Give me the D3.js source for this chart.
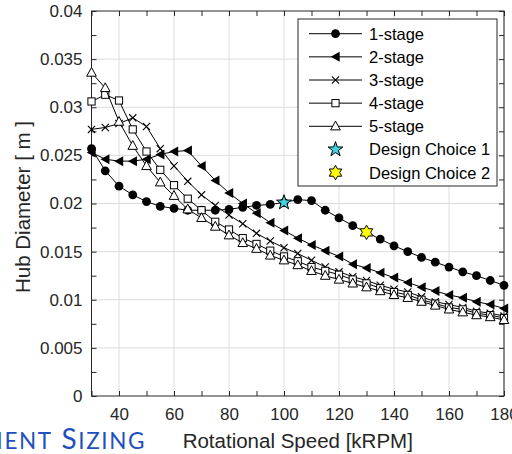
<!DOCTYPE html>
<html>
<head>
<meta charset="utf-8">
<script src="https://cdn.jsdelivr.net/npm/d3@7"></script>
<style>
    body { margin: 0; background: #fff; }
    svg { display: block; font-family: "Liberation Sans", Arial, sans-serif; }
</style>
</head>
<body>
<svg id="chart" width="512" height="454"></svg>
<script>
// rotational speed [kRPM]
const speed = [30, 35, 40, 45, 50, 55, 60, 65, 70, 75, 80, 85, 90, 95, 100, 105,
    110, 115, 120, 125, 130, 135, 140, 145, 150, 155, 160, 165, 170, 175, 180];

// hub diameter [m] per stage count
const stage1 = [0.0257, 0.0234, 0.0218, 0.0209, 0.0202, 0.0197, 0.0195, 0.0193, 0.0193, 0.0193, 0.0194,
    0.0196, 0.0198, 0.0199, 0.0201, 0.0204, 0.0203, 0.0193, 0.0185, 0.0177, 0.0170, 0.0163,
    0.0156, 0.0150, 0.0144, 0.0139, 0.0134, 0.0129, 0.0125, 0.0120, 0.0115];
const stage2 = [0.0253, 0.0246, 0.0244, 0.0244, 0.0246, 0.0251, 0.0254, 0.0255, 0.0239, 0.0224, 0.0211,
    0.0200, 0.0190, 0.0180, 0.0172, 0.0164, 0.0157, 0.0151, 0.0145, 0.0137, 0.0133, 0.0128,
    0.0123, 0.0118, 0.0113, 0.0109, 0.0105, 0.0102, 0.0098, 0.0095, 0.0091];
const stage3 = [0.0277, 0.0279, 0.0283, 0.0289, 0.0280, 0.0257, 0.0239, 0.0223, 0.0209, 0.0198, 0.0188,
    0.0179, 0.0169, 0.0161, 0.0154, 0.0148, 0.0141, 0.0134, 0.0129, 0.0124, 0.0120, 0.0115,
    0.0111, 0.0108, 0.0103, 0.0098, 0.0095, 0.0092, 0.0088, 0.0086, 0.0083];
const stage4 = [0.0306, 0.0313, 0.0307, 0.0277, 0.0254, 0.0235, 0.0219, 0.0205, 0.0193, 0.0181, 0.0173,
    0.0164, 0.0158, 0.0151, 0.0145, 0.0140, 0.0134, 0.0130, 0.0126, 0.0121, 0.0117, 0.0112,
    0.0108, 0.0105, 0.0100, 0.0096, 0.0092, 0.0090, 0.0086, 0.0084, 0.0081];
const stage5 = [0.0336, 0.0320, 0.0285, 0.0260, 0.0239, 0.0222, 0.0208, 0.0194, 0.0185, 0.0176, 0.0167,
    0.0159, 0.0153, 0.0146, 0.0141, 0.0136, 0.0130, 0.0125, 0.0121, 0.0117, 0.0113, 0.0109,
    0.0105, 0.0102, 0.0098, 0.0094, 0.0090, 0.0087, 0.0084, 0.0082, 0.0079];

const seriesNames = ["1-stage", "2-stage", "3-stage", "4-stage", "5-stage"];
const seriesMarkers = ["circle", "triLeft", "cross", "square", "triUp"];

// design points (speed, diameter)
const choiceNames = ["Design Choice 1", "Design Choice 2"];
const choiceSpeed = [100, 130];
const choiceDiameter = [0.0201, 0.0170];
const choiceColors = ["#3fd3e3", "#ffff00"];
const choiceMarkers = ["star5", "star6"];

const xTicks = [30, 40, 50, 60, 70, 80, 90, 100, 110, 120, 130, 140, 150, 160, 170, 180];
const xGrid = [40, 60, 80, 100, 120, 140, 160, 180];
const yTicks = [0, 0.0025, 0.005, 0.0075, 0.01, 0.0125, 0.015, 0.0175, 0.02, 0.0225, 0.025,
    0.0275, 0.03, 0.0325, 0.035, 0.0375, 0.04];
const yGrid = [0.005, 0.01, 0.015, 0.02, 0.025, 0.03, 0.035];
const yLabels = { 0: "0", 0.005: "0.005", 0.01: "0.01", 0.015: "0.015", 0.02: "0.02",
    0.025: "0.025", 0.03: "0.03", 0.035: "0.035", 0.04: "0.04" };

const svg = d3.select("#chart");
const plot = { left: 91.5, right: 504, top: 11, bottom: 396 };
const axisColor = "#262626";

const x = d3.scaleLinear().domain([30, 180]).range([plot.left, plot.right]);
const y = d3.scaleLinear().domain([0, 0.04]).range([plot.bottom, plot.top]);

// grid
const grid = svg.append("g").attr("stroke", "#dcdcdc").attr("stroke-width", 1);
grid.selectAll(".gx").data(xGrid).enter().append("line")
    .attr("x1", d => x(d)).attr("x2", d => x(d))
    .attr("y1", plot.top).attr("y2", plot.bottom);
grid.selectAll(".gy").data(yGrid).enter().append("line")
    .attr("y1", d => y(d)).attr("y2", d => y(d))
    .attr("x1", plot.left).attr("x2", plot.right);

// axes: labelled bottom/left, mirrored ticks on top/right
function styleAxis(g) {
    g.select(".domain").remove();
    g.selectAll(".tick line").attr("stroke", axisColor);
    g.selectAll(".tick text").attr("fill", "#262626").style("font-size", "17px")
        .style("font-family", "'Liberation Sans', Arial, sans-serif");
}

svg.append("g")
    .attr("transform", `translate(0,${plot.bottom})`)
    .call(d3.axisBottom(x).tickValues(xTicks).tickSize(-5).tickPadding(12)
        .tickFormat(d => xGrid.includes(d) ? d : ""))
    .call(styleAxis);

svg.append("g")
    .attr("transform", `translate(0,${plot.top})`)
    .call(d3.axisTop(x).tickValues(xTicks).tickSize(-5).tickFormat(""))
    .call(styleAxis);

svg.append("g")
    .attr("transform", `translate(${plot.left},0)`)
    .call(d3.axisLeft(y).tickValues(yTicks).tickSize(-5).tickPadding(9)
        .tickFormat(d => yLabels[d] !== undefined ? yLabels[d] : ""))
    .call(styleAxis);

svg.append("g")
    .attr("transform", `translate(${plot.right},0)`)
    .call(d3.axisRight(y).tickValues(yTicks).tickSize(-5).tickFormat(""))
    .call(styleAxis);

svg.append("rect")
    .attr("x", plot.left).attr("y", plot.top)
    .attr("width", plot.right - plot.left).attr("height", plot.bottom - plot.top)
    .attr("fill", "none").attr("stroke", axisColor).attr("stroke-width", 1);

// markers
function starPath(n, R, r) {
    const pts = [];
    for (let i = 0; i < 2 * n; i++) {
        const a = -Math.PI / 2 + i * Math.PI / n;
        const rad = i % 2 === 0 ? R : r;
        pts.push([rad * Math.cos(a), rad * Math.sin(a)]);
    }
    return "M" + pts.map(p => p[0].toFixed(2) + "," + p[1].toFixed(2)).join("L") + "Z";
}

function drawMarker(g, type, cx, cy, color) {
    const t = `translate(${cx},${cy})`;
    if (type === "circle") {
        g.append("circle").attr("cx", cx).attr("cy", cy).attr("r", 4.4).attr("fill", "#000");
    } else if (type === "triLeft") {
        g.append("path").attr("transform", t).attr("d", "M-4.8,0L4.2,-5L4.2,5Z").attr("fill", "#000");
    } else if (type === "cross") {
        g.append("path").attr("transform", t).attr("d", "M-3.6,-3.6L3.6,3.6M-3.6,3.6L3.6,-3.6")
            .attr("stroke", "#000").attr("stroke-width", 1.1).attr("fill", "none");
    } else if (type === "square") {
        g.append("rect").attr("x", cx - 3.6).attr("y", cy - 3.6).attr("width", 7.2).attr("height", 7.2)
            .attr("fill", "#fff").attr("stroke", "#000").attr("stroke-width", 1);
    } else if (type === "triUp") {
        g.append("path").attr("transform", t).attr("d", "M0,-5.2L4.8,3.6L-4.8,3.6Z")
            .attr("fill", "#fff").attr("stroke", "#000").attr("stroke-width", 1);
    } else if (type === "star5") {
        g.append("path").attr("transform", t).attr("d", starPath(5, 7.8, 3.1))
            .attr("fill", color).attr("stroke", "#000").attr("stroke-width", 1);
    } else if (type === "star6") {
        g.append("path").attr("transform", t).attr("d", starPath(6, 7.2, 4.2))
            .attr("fill", color).attr("stroke", "#000").attr("stroke-width", 1);
    }
}

const allStages = [stage1, stage2, stage3, stage4, stage5];
const line = d3.line().x(d => x(d[0])).y(d => y(d[1]));

allStages.forEach((vals, i) => {
    const pts = speed.map((s, j) => [s, vals[j]]);
    const g = svg.append("g").attr("class", "series-" + (i + 1));
    g.append("path").datum(pts)
        .attr("d", line)
        .attr("fill", "none").attr("stroke", "#000").attr("stroke-width", 1);
    pts.forEach(p => drawMarker(g, seriesMarkers[i], x(p[0]), y(p[1])));
});

const choices = svg.append("g");
choiceNames.forEach((n, i) => {
    drawMarker(choices, choiceMarkers[i], x(choiceSpeed[i]), y(choiceDiameter[i]), choiceColors[i]);
});

// legend
const lg = svg.append("g");
lg.append("rect")
    .attr("x", 298).attr("y", 19).attr("width", 199).attr("height", 167)
    .attr("fill", "#fff").attr("stroke", axisColor).attr("stroke-width", 1);

const legendItems = seriesNames.map((n, i) => ({ name: n, marker: seriesMarkers[i], line: true }))
    .concat(choiceNames.map((n, i) => ({ name: n, marker: choiceMarkers[i], color: choiceColors[i], line: false })));

legendItems.forEach((d, i) => {
    const cy = 33.7 + i * 23.15;
    if (d.line) {
        lg.append("line").attr("x1", 309).attr("x2", 362).attr("y1", cy).attr("y2", cy)
            .attr("stroke", "#000").attr("stroke-width", 1);
    }
    drawMarker(lg, d.marker, 335.5, cy, d.color);
    lg.append("text")
        .attr("x", 369).attr("y", cy).attr("dy", "0.36em")
        .attr("fill", "#000")
        .style("font-size", "16.5px")
        .text(d.name);
});

// axis titles
svg.append("text")
    .attr("x", (plot.left + plot.right) / 2).attr("y", 448)
    .attr("text-anchor", "middle").attr("fill", "#262626")
    .style("font-size", "20.5px")
    .text("Rotational Speed [kRPM]");

svg.append("text")
    .attr("transform", "translate(29.5,207) rotate(-90)")
    .attr("text-anchor", "middle").attr("fill", "#262626")
    .style("font-size", "20.5px")
    .text("Hub Diameter [ m ]");

// slide heading peeking in at the bottom-left (small caps built from tspans)
const heading = svg.append("text")
    .attr("x", 146).attr("y", 449)
    .attr("text-anchor", "end").attr("fill", "#1f50c0")
    .style("letter-spacing", "1.6px")
    .style("font-family", "Lato, 'Liberation Sans', sans-serif");
[["C", 28], ["OMPONENT", 22.5], [" S", 28], ["IZING", 22.5]].forEach(p => {
    heading.append("tspan").style("font-size", p[1] + "px").text(p[0]);
});
</script>
</body>
</html>
